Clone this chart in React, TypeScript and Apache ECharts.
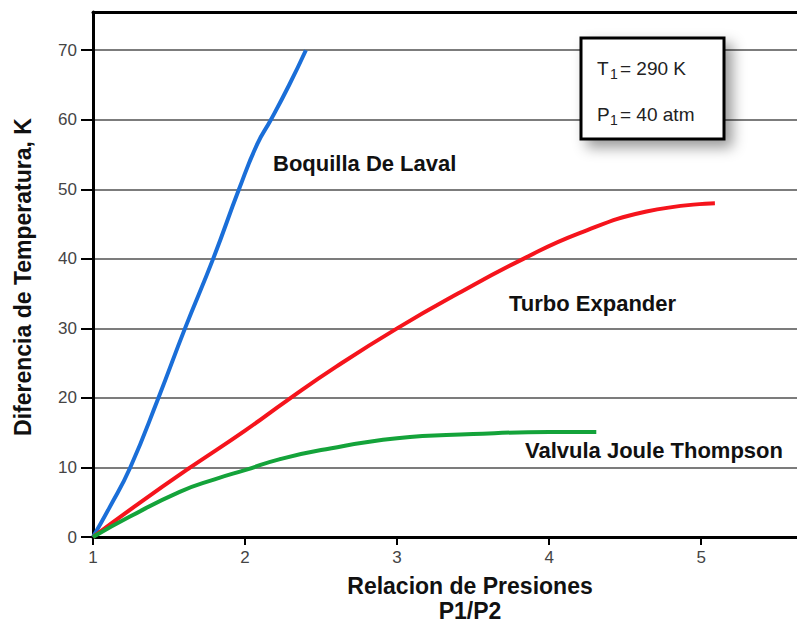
import React, { useEffect, useRef } from "react";
import * as echarts from "echarts";

const boquillaDeLaval: [number, number][] = [
  [1, 0], [1.11, 4.3], [1.245, 10], [1.43, 20], [1.605, 30], [1.79, 40],
  [1.96, 50], [2.08, 56.5], [2.17, 60], [2.29, 65], [2.4, 70],
];
const turboExpander: [number, number][] = [
  [1, 0], [1.3, 4.8], [1.64, 10], [2.0, 15.3], [2.28, 19.7], [2.6, 24.5],
  [3.0, 30], [3.4, 35], [3.83, 40], [4.2, 43.7], [4.64, 46.8], [5.09, 48],
];
const valvulaJouleThompson: [number, number][] = [
  [1, 0], [1.24, 2.9], [1.57, 6.5], [1.8, 8.3], [2.01, 9.7], [2.23, 11.2],
  [2.5, 12.5], [3.0, 14.2], [3.5, 14.8], [4.0, 15.1], [4.31, 15.1],
];
const seriesNames = ["Boquilla De Laval", "Turbo Expander", "Valvula Joule Thompson"];
const xTitle = ["Relacion de Presiones", "P1/P2"];
const yTitle = "Diferencia de Temperatura, K";
const boxLines = [
  { main: "T", sub: "1", rest: "= 290 K" },
  { main: "P", sub: "1", rest: "= 40 atm" },
];

const FONT = "'Liberation Sans', Arial, sans-serif";

export default function App() {
  const ref = useRef<HTMLDivElement>(null);
  useEffect(() => {
    if (!ref.current) return;
    const chart = echarts.init(ref.current, undefined, { renderer: "svg" });
    const lineSeries = (name: string, data: [number, number][], color: string) => ({
      name,
      type: "line",
      data,
      xAxisIndex: 0,
      yAxisIndex: 0,
      smooth: 0.5,
      showSymbol: false,
      symbol: "none",
      lineStyle: { color, width: 4 },
      z: 5,
    });
    const boxTexts: any[] = [];
    boxLines.forEach((l, i) => {
      const cy = 68 + i * 46;
      boxTexts.push(
        { type: "text", x: 597, y: cy, style: { text: l.main, font: `19px ${FONT}`, fill: "#222", textVerticalAlign: "middle" }, z: 20 },
        { type: "text", x: 610, y: cy + 6, style: { text: l.sub, font: `14px ${FONT}`, fill: "#222", textVerticalAlign: "middle" }, z: 20 },
        { type: "text", x: 620, y: cy, style: { text: l.rest, font: `19px ${FONT}`, fill: "#222", textVerticalAlign: "middle" }, z: 20 }
      );
    });
    chart.setOption({
      animation: false,
      backgroundColor: "#ffffff",
      grid: { left: 93, top: 12, right: 0, bottom: 88, containLabel: false },
      xAxis: [
        {
          type: "value",
          min: 1,
          max: 5.63,
          interval: 1,
          axisLine: { show: true, lineStyle: { color: "#000", width: 3 } },
          axisTick: { show: true, inside: false, length: 8, lineStyle: { color: "#000", width: 2 } },
          axisLabel: { showMaxLabel: false, color: "#444", fontSize: 17, fontFamily: FONT, margin: 12 },
          splitLine: { show: false },
        },
        {
          type: "value",
          position: "top",
          min: 1,
          max: 5.63,
          axisLine: { show: true, onZero: false, lineStyle: { color: "#000", width: 3 } },
          axisTick: { show: false },
          axisLabel: { show: false },
          splitLine: { show: false },
        },
      ],
      yAxis: {
        type: "value",
        min: 0,
        max: 75.5,
        interval: 10,
        axisLine: { show: true, lineStyle: { color: "#000", width: 3 } },
        axisTick: { show: true, inside: false, length: 12, lineStyle: { color: "#000", width: 2 } },
        axisLabel: { showMaxLabel: false, color: "#444", fontSize: 17, fontFamily: FONT, margin: 16 },
        splitLine: { show: true, lineStyle: { color: "#505050", width: 1.5 } },
      },
      series: [
        lineSeries(seriesNames[0], boquillaDeLaval, "#1a6ed8"),
        lineSeries(seriesNames[1], turboExpander, "#f5141c"),
        lineSeries(seriesNames[2], valvulaJouleThompson, "#14a33a"),
      ],
      graphic: [
        { type: "text", x: 273, y: 163, style: { text: seriesNames[0], font: `bold 22px ${FONT}`, fill: "#111", textVerticalAlign: "middle" }, z: 10 },
        { type: "text", x: 509, y: 303, style: { text: seriesNames[1], font: `bold 22px ${FONT}`, fill: "#111", textVerticalAlign: "middle" }, z: 10 },
        { type: "text", x: 525, y: 450, style: { text: seriesNames[2], font: `bold 22px ${FONT}`, fill: "#111", textVerticalAlign: "middle" }, z: 10 },
        { type: "text", x: 470, y: 586, style: { text: xTitle[0], font: `bold 23px ${FONT}`, fill: "#111", textAlign: "center", textVerticalAlign: "middle" }, z: 10 },
        { type: "text", x: 470, y: 611, style: { text: xTitle[1], font: `bold 23px ${FONT}`, fill: "#111", textAlign: "center", textVerticalAlign: "middle" }, z: 10 },
        { type: "text", x: 23, y: 277, rotation: Math.PI / 2, style: { text: yTitle, font: `bold 23px ${FONT}`, fill: "#111", textAlign: "center", textVerticalAlign: "middle" }, z: 10 },
        {
          type: "rect",
          shape: { x: 581, y: 38, width: 143, height: 101 },
          style: { fill: "#fff", stroke: "#000", lineWidth: 3, shadowBlur: 14, shadowOffsetX: 7, shadowOffsetY: 7, shadowColor: "rgba(0,0,0,0.4)" },
          z: 15,
        },
        ...boxTexts,
      ],
    });
    return () => chart.dispose();
  }, []);
  return <div ref={ref} style={{ position: "fixed", left: 0, top: 0, width: 797, height: 625 }} />;
}
